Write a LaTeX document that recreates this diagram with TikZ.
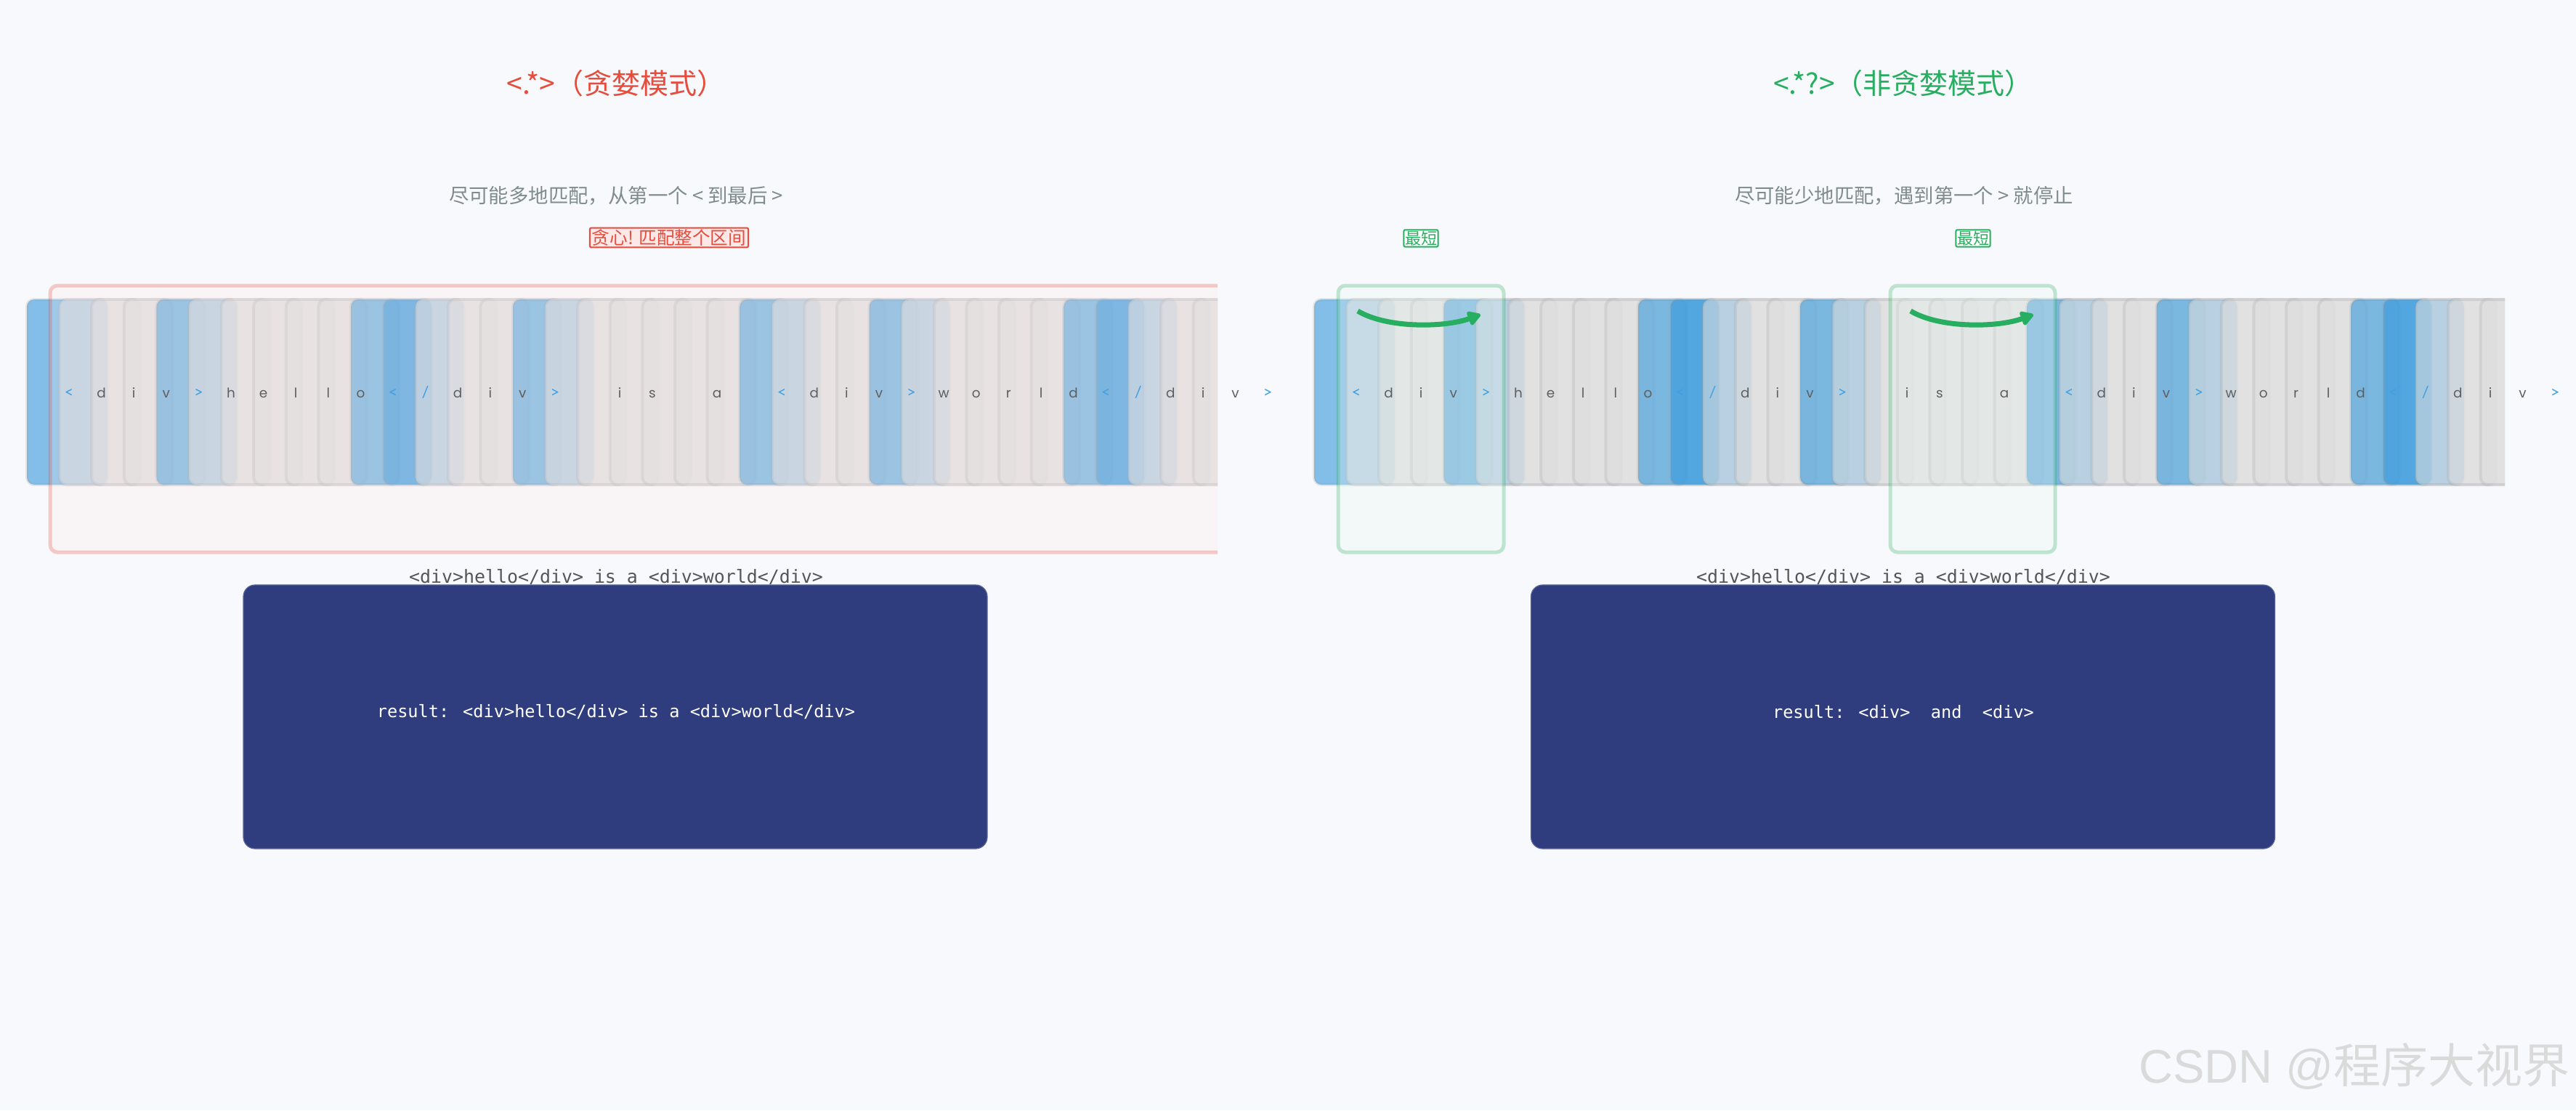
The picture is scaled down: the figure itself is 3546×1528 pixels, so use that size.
\documentclass[tikz,border=0pt]{standalone}
\usepackage{fontspec}
\usetikzlibrary{arrows.meta,calc}
\newfontfamily\cjkf{Noto Sans CJK SC}
\newfontfamily\monof{DejaVu Sans Mono}
\newfontfamily\chfontgfam{Poppins}
\newfontfamily\chfontbfam{Lato}
\newcommand\chfontg{\chfontgfam\fontsize{9.2pt}{10pt}\selectfont}
\newcommand\chfontb{\chfontbfam\fontsize{11pt}{12pt}\selectfont}
\newfontfamily\arialf{Liberation Sans}
\definecolor{bgc}{HTML}{F8F9FC}
\definecolor{redc}{HTML}{E74C3C}
\definecolor{greenc}{HTML}{27AE60}
\definecolor{subc}{HTML}{7F8C8D}
\definecolor{cellfillb}{HTML}{3498DB}
\definecolor{cellfillg}{HTML}{DDDDDD}
\definecolor{cellfills}{HTML}{DDDDDD}
\definecolor{chartextb}{HTML}{3F9FE0}
\definecolor{chartextg}{HTML}{5E5E5E}
\definecolor{redfillc}{RGB}{253,232,232}
\definecolor{greenfillc}{RGB}{232,246,239}
\definecolor{navyc}{HTML}{2F3D7E}
\definecolor{plainc}{HTML}{555555}
\definecolor{wmc}{HTML}{DADADA}
\tikzset{
  cellbase/.style={rounded corners=5pt, fill opacity=0.6, draw=black!40, draw opacity=0.2, line width=2pt},
  redbox/.style={rounded corners=5pt, fill=redfillc, fill opacity=0.25, draw=redc, draw opacity=0.27, line width=2.5pt},
  greenbox/.style={rounded corners=5pt, fill=greenfillc, fill opacity=0.3, draw=greenc, draw opacity=0.27, line width=2.5pt},
  chartext/.style={anchor=base, inner sep=0pt},
  titletext/.style={font=\cjkf\fontsize{19.5pt}{23pt}\selectfont, inner sep=0pt},
  subtext/.style={font=\cjkf\fontsize{13.7pt}{16pt}\selectfont, text=subc, inner sep=0pt},
  redlabel/.style={font=\cjkf\fontsize{12.3pt}{14pt}\selectfont, text=redc, fill=redfillc, draw=redc, line width=1pt, rounded corners=1pt, inner xsep=1.5pt, inner ysep=1pt},
  greenlabel/.style={font=\cjkf\fontsize{11pt}{13pt}\selectfont, text=greenc, fill=white, draw=greenc, line width=1pt, rounded corners=1pt, inner xsep=0.8pt, inner ysep=0.8pt},
  plaintext/.style={font=\monof\fontsize{12.45pt}{14pt}\selectfont, text=plainc, inner sep=0pt},
  resbox/.style={fill=navyc, draw=navyc!80!white, line width=0.6pt, rounded corners=8pt, minimum width=512pt, minimum height=181.5pt},
  restext/.style={text=white, inner sep=0pt, font=\monof\fontsize{11.8pt}{14pt}\selectfont},
  matcharrow/.style={draw=greenc, line width=3.5pt, -{Triangle[round, length=10pt, width=11pt]}},
}
\def\tyspace{s}
\def\charlist{</b,d/g,i/g,v/g,>/b,h/g,e/g,l/g,l/g,o/g,</b,{/}/b,d/g,i/g,v/g,>/b,{}/s,i/g,s/g,{}/s,a/g,{}/s,</b,d/g,i/g,v/g,>/b,w/g,o/g,r/g,l/g,d/g,</b,{/}/b,d/g,i/g,v/g,>/b}
\newcommand\drawcells[1]{%
  \foreach \ch/\ty [count=\i from 0] in \charlist {
    \path[cellbase, fill=cellfill\ty] ({#1+37+44.6*\i},412) rectangle ++(111,255);
  }}
\newcommand\drawchars[2]{%
  \foreach \ch/\ty [count=\i from 0] in \charlist {
    \ifx\ty\tyspace\else
      \node[chartext, text=chartext\ty] (#2\i) at ({#1+95+44.6*\i},547) {\csname chfont\ty\endcsname\ch};
    \fi
  }}
\begin{document}
\begin{tikzpicture}[x=0.5pt,y=-0.5pt]
\path[use as bounding box, fill=bgc] (0,0) rectangle (3546,1528);

% titles
\node[titletext, text=redc] (titleL) at (848,115) {<.*>（贪婪模式）};
\node[titletext, text=greenc] (titleR) at (2620,115) {<.*?>（非贪婪模式）};
\node[subtext] (subL) at (848,269) {尽可能多地匹配，从第一个 < 到最后 >};
\node[subtext] (subR) at (2621,269) {尽可能少地匹配，遇到第一个 > 就停止};
\node[redlabel] (greedyL) at (921,327) {贪心! 匹配整个区间};
\node[greenlabel] (shortA) at (1956,328) {最短};
\node[greenlabel] (shortB) at (2716,328) {最短};

% left strip
\begin{scope}
  \clip (0,370) rectangle (1676,780);
  \drawcells{0}
  \path[redbox] (69,393) rectangle (1773,760);
\end{scope}
\drawchars{0}{L}

% right strip
\begin{scope}
  \clip (1772,370) rectangle (3448,780);
  \drawcells{1772}
\end{scope}
\path[greenbox] (1842,393) rectangle (2070,760);
\path[greenbox] (2602,393) rectangle (2829,760);
\drawchars{1772}{R}

% arrows
\coordinate (a1s) at (1869,428);
\coordinate (a1e) at (2038,433);
\coordinate (a2s) at (2630,428);
\coordinate (a2e) at (2799,433);
\draw[matcharrow] (a1s) .. controls +(40,24) and +(-50,18) .. (a1e);
\draw[matcharrow] (a2s) .. controls +(40,24) and +(-50,18) .. (a2e);

% source strings and results
\node[plaintext] (srcL) at (848,794) {<div>hello</div> is a <div>world</div>};
\node[plaintext] (srcR) at (2620,794) {<div>hello</div> is a <div>world</div>};
\node[resbox] (resL) at (847,986.5) {};
\node[resbox] (resR) at (2619.5,986.5) {};
\node[restext] (resLtext) at (848,980) {result: <div>hello</div> is a <div>world</div>};
\node[restext] (resRtext) at (2620,980) {result: <div>\ \ and\ \ <div>};

% watermark
\node[anchor=east, inner sep=0pt, text=wmc, font=\fontsize{32.5pt}{36pt}\selectfont] (wm) at (3538,1468) {\arialf CSDN @\cjkf 程序大视界};
\end{tikzpicture}
\end{document}
